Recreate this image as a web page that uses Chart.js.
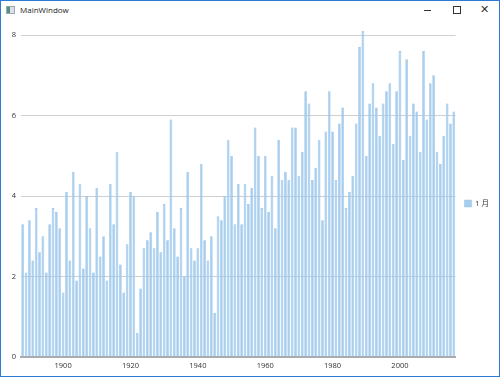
<!DOCTYPE html>
<html>
<head>
<meta charset="utf-8">
<script src="https://cdn.jsdelivr.net/npm/chart.js@4/dist/chart.umd.min.js"></script>
<style>
  html, body { margin: 0; padding: 0; background: #fff; }
  #win {
    position: absolute; left: 0; top: 0; width: 500px; height: 377px;
    box-sizing: border-box; border: 1px solid #2a7ad6; background: #fff;
    font-family: "Open Sans", "Noto Sans", sans-serif;
  }
  #titlebar { position: absolute; left: 0; top: 0; width: 498px; height: 20px; }
  #icon { position: absolute; left: 5px; top: 5px; width: 7px; height: 6px;
          border: 1px solid #9aa; background: linear-gradient(90deg, #4f8f86 50%, #dde 50%); }
  #title { position: absolute; left: 19px; top: 3px; font-size: 8px; color: #222; }
  .btn { position: absolute; top: 4px; width: 10px; height: 10px; }
  #min { left: 422px; }
  #min::after { content: ""; position: absolute; left: 1px; top: 5px; width: 7px; height: 1px; background: #333; }
  #max { left: 451px; }
  #max::after { content: ""; position: absolute; left: 1px; top: 1px; width: 6px; height: 6px; border: 1px solid #333; }
  #close { left: 479px; font-size: 11px; line-height: 10px; color: #333; top: 3px; }
  #chart { position: absolute; left: 0px; top: 19px; }
</style>
</head>
<body>
<div id="win">
  <div id="titlebar">
    <div id="icon"></div>
    <div id="title">MainWindow</div>
    <div class="btn" id="min"></div>
    <div class="btn" id="max"></div>
    <div class="btn" id="close">✕</div>
  </div>
  <canvas id="chart" width="498" height="356"></canvas>
</div>
<script>
// January mean temperature, 1888 - 2016
const FIRST_YEAR = 1888;
const SERIES_LABEL = "1 月";

const temps1888 = [3.3, 2.1, 3.4, 2.4, 3.7, 2.6, 3.0, 2.1, 3.3, 3.7, 3.6, 3.2, 1.6, 4.1, 2.4, 4.6, 1.9, 4.3, 2.2, 4.0, 3.2, 2.1, 4.2, 2.5, 3.0];
const temps1913 = [1.9, 4.3, 3.3, 5.1, 2.3, 1.6, 2.8, 4.1, 4.0, 0.6, 1.7, 2.7, 2.9, 3.1, 2.7, 3.6, 2.6, 3.8, 2.9, 5.9, 3.2, 2.5, 3.7, 2.0, 4.6];
const temps1938 = [2.7, 2.4, 2.7, 4.8, 2.9, 2.4, 3.0, 1.1, 3.5, 3.4, 4.0, 5.4, 5.0, 3.3, 4.3, 3.3, 4.3, 3.8, 4.2, 5.7, 5.0, 3.7, 5.0, 3.6, 4.5];
const temps1963 = [3.2, 5.4, 4.4, 4.6, 4.4, 5.7, 5.7, 4.5, 5.1, 6.6, 6.3, 4.4, 4.7, 5.4, 3.4, 5.6, 6.6, 5.6, 4.4, 5.8, 6.2, 3.7, 4.1, 4.5, 5.8];
const temps1988 = [7.7, 8.1, 5.0, 6.3, 6.8, 6.2, 5.5, 6.3, 6.6, 6.8, 5.3, 6.6, 7.6, 4.9, 7.4, 5.5, 6.3, 6.1, 5.1, 7.6, 5.9, 6.8, 7.0, 5.1, 4.8, 5.5, 6.3, 5.8, 6.1];

const temps = [...temps1888, ...temps1913, ...temps1938, ...temps1963, ...temps1988];
const years = temps.map((_, i) => String(FIRST_YEAR + i));

const yTicks = [0, 2, 4, 6, 8];
const xTickYears = ["1900", "1920", "1940", "1960", "1980", "2000"];

const FONT = { family: "'Open Sans', 'Noto Sans CJK JP', sans-serif", size: 7.5 };
const TEXT = "#333";

const isLabelled = i => xTickYears.includes(years[i]);

new Chart(document.getElementById("chart").getContext("2d"), {
  type: "bar",
  data: {
    labels: years,
    datasets: [{
      label: SERIES_LABEL,
      data: temps,
      backgroundColor: "#a7ceef",
      borderColor: "#8fbde7",
      borderWidth: { left: 0.6, right: 0.6, top: 0.6, bottom: 0 },
      barPercentage: 0.8,
      categoryPercentage: 1.0,
    }],
  },
  options: {
    responsive: false,
    animation: false,
    devicePixelRatio: 1,
    layout: { padding: { top: 11, right: 0, bottom: 0, left: 0 } },
    plugins: {
      legend: {
        position: "right",
        labels: {
          boxWidth: 7, boxHeight: 7, padding: 9,
          color: TEXT, font: FONT,
        },
      },
      tooltip: { enabled: false },
    },
    scales: {
      x: {
        grid: {
          display: true, drawOnChartArea: false, drawTicks: true,
          tickLength: 3,
          color: ctx => isLabelled(ctx.index) ? "#999" : "rgba(0,0,0,0)",
        },
        border: { display: true, color: "#aaa", width: 2 },
        ticks: {
          autoSkip: false, maxRotation: 0, padding: 1,
          color: TEXT, font: FONT,
          callback: (v, i) => isLabelled(i) ? years[i] : null,
        },
        afterFit: s => { s.height = 19; },
      },
      y: {
        min: 0,
        max: 8.1,
        afterBuildTicks: s => { s.ticks = yTicks.map(v => ({ value: v })); },
        grid: { color: "#cfcfcf", drawTicks: false },
        border: { display: false },
        ticks: { color: TEXT, font: FONT, padding: 5 },
        afterFit: s => { s.width = 20; },
      },
    },
  },
});
</script>
</body>
</html>
